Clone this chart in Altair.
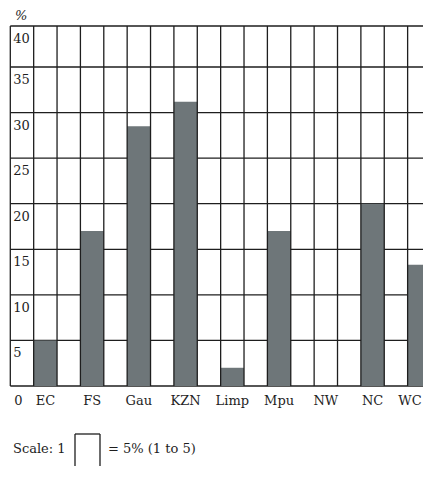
import altair as alt
import pandas as pd

# ---- data ----
regions = ["EC", "FS", "Gau", "KZN", "Limp", "Mpu", "NW", "NC", "WC"]
values = [5, 17, 28.5, 31.2, 2, 17, 0, 20, 13.3]
y_tick_values = [5, 10, 15, 20, 25, 30, 35, 40]
h_line_values = [0, 5, 10, 15, 20, 25, 30, 35, 40]
n_columns = 18

GRAY = "#6e7679"
INK = "#1e1e1e"
FONT = "DejaVu Serif"
FS = 13

xs = alt.Scale(domain=[0, n_columns], range=[2.3, 423])
ys = alt.Scale(domain=[0, 39.5], range=[378, 18], clamp=True)

bars_df = pd.DataFrame({
    "region": regions,
    "value": values,
    "c0": [2 * i + 1 for i in range(len(regions))],
    "c1": [2 * i + 2 for i in range(len(regions))],
})
bars_df["mid"] = bars_df["c0"] + 0.5
bars_df["zero"] = 0

h_df = pd.DataFrame({"v": h_line_values, "x0": 0, "x1": n_columns})
v_df = pd.DataFrame({"c": list(range(n_columns)), "y0": 0, "y1": 40})
yt_df = pd.DataFrame({"t": [str(v) for v in y_tick_values], "v": y_tick_values, "x": 0})
zero_df = pd.DataFrame({"t": ["0"], "x": [0], "y": [0]})

hlines = alt.Chart(h_df).mark_rule(color=INK, strokeWidth=1.3).encode(
    x=alt.X("x0:Q", scale=xs, axis=None),
    x2="x1",
    y=alt.Y("v:Q", scale=ys, axis=None),
)

bars = alt.Chart(bars_df).mark_rect(color=GRAY).encode(
    x=alt.X("c0:Q", scale=xs, axis=None),
    x2="c1",
    y=alt.Y("zero:Q", scale=ys, axis=None),
    y2="value",
)

vlines = alt.Chart(v_df).mark_rule(color=INK, strokeWidth=1.3).encode(
    x=alt.X("c:Q", scale=xs, axis=None),
    y=alt.Y("y0:Q", scale=ys, axis=None),
    y2="y1",
)

ylabels = alt.Chart(yt_df).mark_text(
    align="left", baseline="alphabetic", dx=3, dy=17, font=FONT, fontSize=FS, color=INK
).encode(
    x=alt.X("x:Q", scale=xs, axis=None),
    y=alt.Y("v:Q", scale=ys, axis=None),
    text="t:N",
)

# keep the last label inside the visible page
xlabels = alt.Chart(bars_df).transform_calculate(
    lx="min(datum.mid, 17.1)"
).mark_text(
    align="center", baseline="alphabetic", dy=18.5, font=FONT, fontSize=FS, color=INK
).encode(
    x=alt.X("lx:Q", scale=xs, axis=None),
    y=alt.Y("zero:Q", scale=ys, axis=None),
    text="region:N",
)

zero_label = alt.Chart(zero_df).mark_text(
    align="left", baseline="alphabetic", dx=4, dy=18.5, font=FONT, fontSize=FS, color=INK
).encode(
    x=alt.X("x:Q", scale=xs, axis=None),
    y=alt.Y("y:Q", scale=ys, axis=None),
    text="t:N",
)

pct = alt.Chart(pd.DataFrame({"t": ["%"]})).mark_text(
    align="left", baseline="alphabetic", font=FONT, fontSize=FS, fontStyle="italic", color=INK
).encode(x=alt.value(7), y=alt.value(12), text="t:N")

scale_left = alt.Chart(pd.DataFrame({"t": ["Scale: 1"]})).mark_text(
    align="left", baseline="alphabetic", font=FONT, fontSize=FS, color=INK
).encode(x=alt.value(5), y=alt.value(445), text="t:N")

scale_right = alt.Chart(pd.DataFrame({"t": ["= 5% (1 to 5)"]})).mark_text(
    align="left", baseline="alphabetic", font=FONT, fontSize=FS, color=INK
).encode(x=alt.value(100), y=alt.value(445), text="t:N")

box_top = alt.Chart(pd.DataFrame({"k": [0]})).mark_rule(color=INK, strokeWidth=1.3).encode(
    x=alt.value(67), x2=alt.value(92), y=alt.value(426)
)
box_left = alt.Chart(pd.DataFrame({"k": [0]})).mark_rule(color=INK, strokeWidth=1.3).encode(
    x=alt.value(67), y=alt.value(426), y2=alt.value(472)
)
box_right = alt.Chart(pd.DataFrame({"k": [0]})).mark_rule(color=INK, strokeWidth=1.3).encode(
    x=alt.value(92), y=alt.value(426), y2=alt.value(472)
)

chart = alt.layer(
    hlines, bars, vlines, ylabels, xlabels, zero_label, pct,
    scale_left, scale_right, box_top, box_left, box_right,
).properties(
    width=415,
    height=458,
    autosize=alt.AutoSizeParams(type="none"),
    padding=0,
).configure_view(stroke=None)

chart.save("out.html", embed_options={"renderer": "svg", "actions": False})
